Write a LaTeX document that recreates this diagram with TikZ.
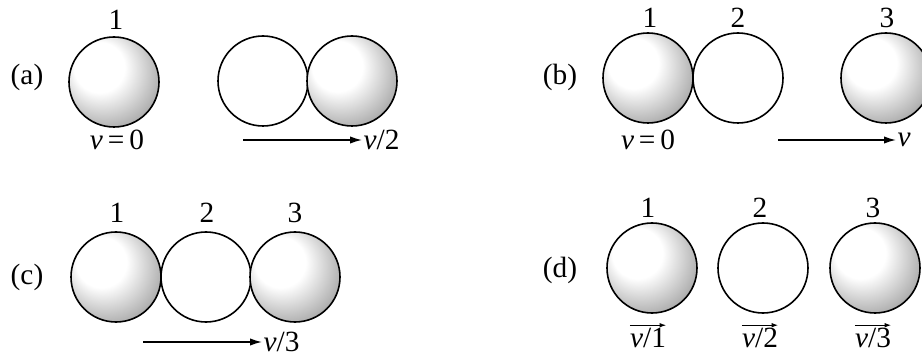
\documentclass[tikz,border=0pt]{standalone}
\usepackage{fontspec}
\setmainfont{Liberation Serif}
\usetikzlibrary{arrows.meta}
\pgfdeclareradialshading{sph}{\pgfpoint{-11bp}{11bp}}{color(0bp)=(white); color(14bp)=(white); color(30bp)=(black!30); color(42bp)=(black!58); color(54bp)=(black!85)}
\tikzset{
  ball/.style={circle, draw=black, line width=1.2pt, minimum size=67.5pt, inner sep=0pt},
  shaded/.style={ball, shading=sph},
  plain/.style={ball, fill=white},
  lbl/.style={font=\fontsize{22}{25}\selectfont, inner sep=1pt},
  vel/.style={-{Latex[length=9pt,width=5.5pt]}, line width=1pt},
  ovr/.style={-{Latex[length=5pt,width=3.5pt]}, line width=0.8pt}
}
\begin{document}
\begin{tikzpicture}[x=0.75pt, y=-0.75pt]
\clip (0,0) rectangle (922,356);
\fill[white] (0,0) rectangle (922,356);
% (a)
\node[lbl] (la) at (27,77) {(a)};
\node[shaded] (a1) at (114,82) {};
\node[lbl] (a1n) at (116,20) {1};
\node[lbl] (a1v) at (117,140) {\textit{v}\,=\,0};
\node[plain] (a2) at (263,81) {};
\node[shaded] (a3) at (352,81) {};
\coordinate (aas) at (243,140);
\node[lbl, anchor=west] (aav) at (362,140) {\textit{v}/2};
\draw[vel] (aas) -- (aav.west);
% (b)
\node[lbl] (lb) at (560,77) {(b)};
\node[shaded] (b1) at (648,78) {};
\node[plain] (b2) at (738,78) {};
\node[shaded] (b3) at (886,78) {};
\node[lbl] (b1n) at (650,18) {1};
\node[lbl] (b2n) at (738,18) {2};
\node[lbl] (b3n) at (887,18) {3};
\node[lbl] (b1v) at (648,140) {\textit{v}\,=\,0};
\coordinate (bas) at (778,140);
\node[lbl, anchor=west] (bav) at (896,140) {\textit{v}};
\draw[vel] (bas) -- (bav.west);
% (c)
\node[lbl] (lc) at (27,277) {(c)};
\node[shaded] (c1) at (116,277) {};
\node[plain] (c2) at (206,277) {};
\node[shaded] (c3) at (295,277) {};
\node[lbl] (c1n) at (117,213) {1};
\node[lbl] (c2n) at (207,213) {2};
\node[lbl] (c3n) at (295,213) {3};
\coordinate (cas) at (143,342);
\node[lbl, anchor=west] (cav) at (262,342) {\textit{v}/3};
\draw[vel] (cas) -- (cav.west);
% (d)
\node[lbl] (ld) at (560,270) {(d)};
\node[shaded] (d1) at (652,268) {};
\node[plain] (d2) at (763,268) {};
\node[shaded] (d3) at (875,268) {};
\node[lbl] (d1n) at (648,208) {1};
\node[lbl] (d2n) at (760,208) {2};
\node[lbl] (d3n) at (873,208) {3};
\node[lbl] (d1v) at (648,338) {\textit{v}/1};
\node[lbl] (d2v) at (760,338) {\textit{v}/2};
\node[lbl] (d3v) at (873,338) {\textit{v}/3};
\foreach \n in {d1v,d2v,d3v}
  \draw[ovr] ([xshift=1pt,yshift=1pt]\n.north west) -- ([xshift=-1pt,yshift=1pt]\n.north east);
\end{tikzpicture}
\end{document}
